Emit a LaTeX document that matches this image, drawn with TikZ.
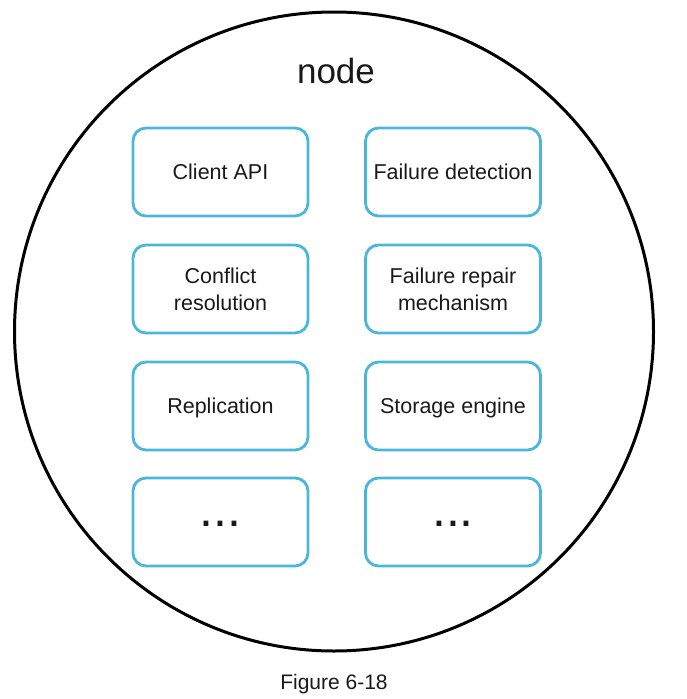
\documentclass[tikz,border=0pt]{standalone}
\usepackage{fontspec}
\setmainfont{Liberation Sans}
\definecolor{boxblue}{RGB}{74,183,218}
\definecolor{txt}{RGB}{25,25,25}
\tikzset{
  compbox/.style={draw=boxblue, line width=2.8pt, rounded corners=13pt,
    minimum width=175pt, minimum height=88pt, inner sep=0pt,
    align=center, text=txt,
    font=\fontsize{21.5pt}{27pt}\selectfont,
    text height=15pt, text depth=0pt},
  lbl/.style={anchor=base, inner sep=0pt, text=txt, font=\fontsize{21.5pt}{27pt}\selectfont},
  dotslbl/.style={anchor=base, inner sep=0pt, text=txt, font=\fontsize{50pt}{50pt}\selectfont}
}
\begin{document}
\begin{tikzpicture}[x=1pt,y=-1pt]
\useasboundingbox (0,0) rectangle (687,699);
\node[draw=black, line width=3pt, circle, minimum size=639pt, inner sep=0pt] (outer) at (334,331.5) {};
\node[anchor=base, text=txt, font=\fontsize{35pt}{40pt}\selectfont, inner sep=0pt] (title) at (336,83) {node};
\node[compbox] (api) at (220.5,172) {Client API};
\node[compbox] (fd) at (453,172) {Failure detection};
\node[compbox] (cr) at (220.5,289) {};
\node[lbl] (cr1) at (220.5,283) {Conflict};
\node[lbl] (cr2) at (220.5,310) {resolution};
\node[compbox] (frm) at (453,289) {};
\node[lbl] (frm1) at (453,283) {Failure repair};
\node[lbl] (frm2) at (453,310) {mechanism};
\node[compbox] (rep) at (220.5,406) {Replication};
\node[compbox] (se) at (453,406) {Storage engine};
\node[compbox] (m1) at (220.5,522) {};
\node[compbox] (m2) at (453,522) {};
\node[dotslbl] (d1) at (220.5,526) {...};
\node[dotslbl] (d2) at (453,526) {...};
\node[anchor=base, text=txt, font=\fontsize{21pt}{25pt}\selectfont, inner sep=0pt] (cap) at (334,689) {Figure 6-18};
\end{tikzpicture}
\end{document}
